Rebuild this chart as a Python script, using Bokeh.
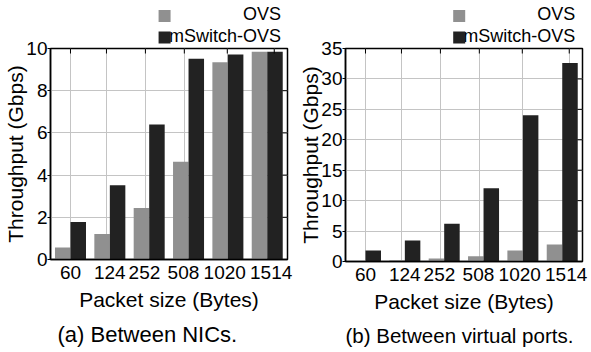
from bokeh.plotting import figure
from bokeh.models import Range1d, FixedTicker, LinearAxis, Title, ColumnDataSource
from bokeh.layouts import row, column
from bokeh.transform import dodge
from bokeh.embed import file_html
from bokeh.resources import INLINE

# ---- data ----
packet_sizes = ["60", "124", "252", "508", "1020", "1514"]
nic_ovs = [0.57, 1.21, 2.44, 4.63, 9.35, 9.85]
nic_mswitch = [1.78, 3.52, 6.40, 9.52, 9.72, 9.85]
vp_ovs = [0.05, 0.2, 0.5, 0.87, 1.8, 2.8]
vp_mswitch = [1.8, 3.45, 6.2, 12.05, 24.05, 32.6]
nic_yticks = [0, 2, 4, 6, 8, 10]
vp_yticks = [0, 5, 10, 15, 20, 25, 30, 35]
series_names = ["OVS", "mSwitch-OVS"]
captions = ["(a) Between NICs.", "(b) Between virtual ports."]

# ---- style ----
FONT = "Liberation Sans"
C_OVS = "#909090"
C_MSW = "#222222"
GRID_X = [0, 0.914, 1.904, 2.893, 3.985, 5.178]
LABEL_X = [0, 1.0, 1.88, 2.87, 3.92, 5.10]
H = 352
LEG_H = 48


def make_legend(width):
    lg = figure(width=width, height=LEG_H, output_backend="svg", toolbar_location=None,
                x_range=Range1d(0, width), y_range=Range1d(0, LEG_H),
                min_border=0, x_axis_location=None, y_axis_location=None,
                margin=(-H, 0, 0, 0))
    lg.outline_line_color = None
    lg.grid.visible = False
    lg.background_fill_alpha = 0
    lg.border_fill_alpha = 0
    src = ColumnDataSource(dict(name=series_names, color=[C_OVS, C_MSW],
                                ty=[LEG_H - 13, LEG_H - 35], sy=[LEG_H - 15.5, LEG_H - 37],
                                tx=[287, 287], sx=[142, 142]))
    lg.text(x="tx", y="ty", text="name", source=src, text_align="right",
            text_baseline="middle", text_font={"value": FONT}, text_font_size="18px",
            text_color="black")
    lg.scatter(x="sx", y="sy", marker="square", size=12, fill_color="color",
               line_color=None, source=src)
    return lg


def make_panel(ovs, msw, yticks, caption, cap_size, cap_offset, width, right_border):
    idx = list(range(len(packet_sizes)))
    src = ColumnDataSource(dict(idx=idx, ovs=ovs, msw=msw))
    p = figure(width=width, height=H, output_backend="svg", toolbar_location=None,
               x_range=Range1d(-0.508, 5.515), y_range=Range1d(yticks[0], yticks[-1]),
               min_border_left=50, min_border_right=right_border,
               min_border_top=48, min_border_bottom=90,
               x_axis_location=None, y_axis_location=None)
    p.background_fill_color = "white"
    p.border_fill_color = "white"
    p.outline_line_color = "black"
    p.outline_line_width = 1.5

    p.xgrid.ticker = FixedTicker(ticks=GRID_X)
    p.ygrid.ticker = FixedTicker(ticks=yticks)
    p.grid.grid_line_color = "#c4c4c4"
    p.grid.grid_line_width = 1

    p.vbar(x=dodge("idx", -0.197, range=p.x_range), top="ovs", width=0.394, source=src,
           fill_color=C_OVS, line_color=None)
    p.vbar(x=dodge("idx", 0.197, range=p.x_range), top="msw", width=0.394, source=src,
           fill_color=C_MSW, line_color=None)

    # mirrored inward ticks on the top and right edges (half of each dash is clipped)
    ymax = yticks[-1]
    p.scatter(x=GRID_X, y=[ymax] * len(GRID_X), marker="dash", angle=1.5708, size=10,
              line_color="black", line_width=1)
    p.scatter(x=[5.515] * len(yticks), y=yticks, marker="dash", size=10,
              line_color="black", line_width=1)

    xb = LinearAxis(ticker=FixedTicker(ticks=LABEL_X),
                    major_label_overrides={x: s for x, s in zip(LABEL_X, packet_sizes)},
                    axis_label="Packet size (Bytes)")
    xb.major_tick_in = 0
    xb.major_tick_out = 0
    xb.minor_tick_line_color = None
    xb.axis_line_color = "black"
    xb.axis_line_width = 1.5
    xb.major_label_standoff = 6
    xb.axis_label_standoff = 6
    xb.major_label_text_font = FONT
    xb.major_label_text_font_size = "19px"
    xb.major_label_text_color = "black"
    xb.axis_label_text_font = FONT
    xb.axis_label_text_font_size = "21px"
    xb.axis_label_text_font_style = "normal"
    xb.axis_label_text_color = "black"
    p.add_layout(xb, "below")

    yl = LinearAxis(ticker=FixedTicker(ticks=yticks), axis_label="Throughput (Gbps)")
    yl.major_tick_in = 0
    yl.major_tick_out = 3
    yl.minor_tick_line_color = None
    yl.axis_line_color = "black"
    yl.axis_line_width = 1.5
    yl.major_label_standoff = 0
    yl.axis_label_standoff = -4
    yl.major_label_text_font = FONT
    yl.major_label_text_font_size = "19px"
    yl.major_label_text_color = "black"
    yl.axis_label_text_font = FONT
    yl.axis_label_text_font_size = "21px"
    yl.axis_label_text_font_style = "normal"
    yl.axis_label_text_color = "black"
    p.add_layout(yl, "left")

    cap = Title(text=caption, align="left", offset=cap_offset, standoff=12, text_font=FONT,
                text_font_size=cap_size, text_font_style="normal", text_color="black")
    p.add_layout(cap, "below")
    return p


p1 = make_panel(nic_ovs, nic_mswitch, nic_yticks, captions[0], "22px", 7, 295, 8)
p2 = make_panel(vp_ovs, vp_mswitch, vp_yticks, captions[1], "20.5px", 0, 296, 9)
layout = row(column(p1, make_legend(295)), column(p2, make_legend(296)))
open("out.html", "w").write(file_html(layout, INLINE))
